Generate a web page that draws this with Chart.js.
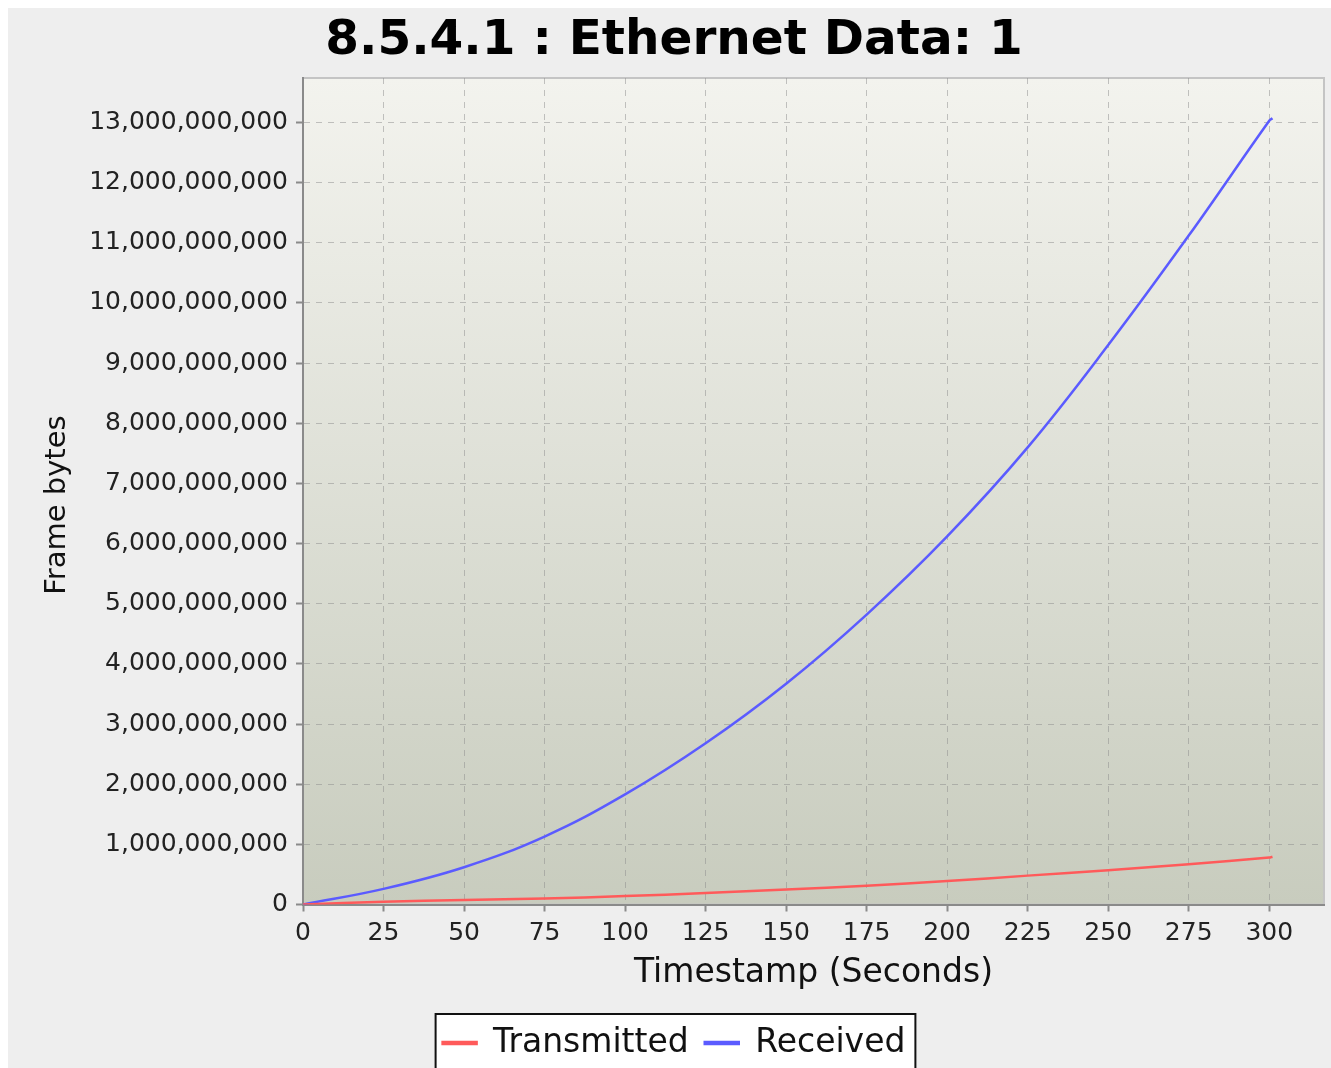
<!DOCTYPE html>
<html>
<head>
<meta charset="utf-8">
<script src="https://cdn.jsdelivr.net/npm/chart.js@4.4.1/dist/chart.umd.min.js"></script>
<style>
  html, body { margin: 0; padding: 0; background: #ffffff; overflow: hidden; }
  #wrap { position: absolute; left: 8px; top: 8px; width: 1323px; height: 1080px; background: #eeeeee; }
</style>
</head>
<body>
<div id="wrap"><canvas id="myChart"></canvas></div>
<script>
// Values
const timestamps = [0, 25, 50, 75, 100, 125, 150, 175, 200, 225, 250, 275, 300, 301];
const transmitted = [0, 0.045e9, 0.075e9, 0.1e9, 0.14e9, 0.19e9, 0.25e9, 0.31e9, 0.39e9,
                     0.48e9, 0.57e9, 0.67e9, 0.78e9, 0.795e9];
const received = [0, 0.26e9, 0.62e9, 1.13e9, 1.83e9, 2.68e9, 3.67e9, 4.82e9, 6.12e9,
                  7.6e9, 9.3e9, 11.12e9, 13.03e9, 13.07e9];
const xTicks = [0, 25, 50, 75, 100, 125, 150, 175, 200, 225, 250, 275, 300];
const yTicks = [0, 1e9, 2e9, 3e9, 4e9, 5e9, 6e9, 7e9, 8e9, 9e9, 10e9, 11e9, 12e9, 13e9];

const FONT = 'DejaVu Sans';
const RED = '#ff5a5a';
const BLUE = '#5b5bff';

function toPoints(values) {
    return timestamps.map((t, i) => ({ x: t, y: values[i] }));
}

// gradient plot background, outline and legend frame
const plotBackground = {
    id: 'plotBackground',
    beforeDraw(chart) {
        const { ctx, chartArea } = chart;
        const { left, top, right, bottom } = chartArea;
        ctx.save();
        const grad = ctx.createLinearGradient(0, top, 0, bottom);
        grad.addColorStop(0, '#f3f3ee');
        grad.addColorStop(1, '#c8ccbe');
        ctx.fillStyle = grad;
        ctx.fillRect(left, top, right - left, bottom - top);
        ctx.strokeStyle = '#c4c4c4';
        ctx.lineWidth = 2;
        ctx.strokeRect(left, top, right - left, bottom - top);

        // legend frame
        const legend = chart.legend;
        if (legend && legend.legendHitBoxes.length) {
            const boxes = legend.legendHitBoxes;
            const first = boxes[0];
            const last = boxes[boxes.length - 1];
            const x0 = first.left - 7;
            const x1 = last.left + last.width + 10;
            const midY = first.top + first.height / 2;
            ctx.fillStyle = '#ffffff';
            ctx.fillRect(x0, midY - 29, x1 - x0, 70);
            ctx.strokeStyle = '#111111';
            ctx.lineWidth = 2;
            ctx.strokeRect(x0, midY - 29, x1 - x0, 70);
        }
        ctx.restore();
    }
};

const gridOpts = {
    color: 'rgba(140,140,140,0.5)',
    tickColor: '#8a8a8a',
    tickBorderDash: [],
    tickLength: 7,
    tickWidth: 2
};
const borderOpts = { color: '#8a8a8a', width: 2, dash: [6, 6] };

const config = {
    type: 'line',
    data: {
        datasets: [
            {
                label: 'Transmitted',
                data: toPoints(transmitted),
                borderColor: RED,
                backgroundColor: RED,
                borderWidth: 2.5,
                pointRadius: 0,
                tension: 0.4
            },
            {
                label: 'Received',
                data: toPoints(received),
                borderColor: BLUE,
                backgroundColor: BLUE,
                borderWidth: 2.5,
                pointRadius: 0,
                tension: 0.4
            }
        ]
    },
    options: {
        responsive: true,
        maintainAspectRatio: false,
        animation: false,
        layout: { padding: { top: 0, right: 7, bottom: 18.5, left: 16 } },
        plugins: {
            title: {
                display: true,
                text: '8.5.4.1 : Ethernet Data: 1',
                color: '#000000',
                font: { family: FONT, size: 48.5, weight: 'bold', lineHeight: 1.2 },
                padding: { top: 4.5, bottom: 7.3 }
            },
            legend: {
                position: 'bottom',
                labels: {
                    color: '#111111',
                    font: { family: FONT, size: 33 },
                    boxWidth: 34,
                    boxHeight: 2,
                    padding: 16
                }
            },
            tooltip: { enabled: false }
        },
        scales: {
            x: {
                type: 'linear',
                min: 0,
                max: 317,
                afterBuildTicks: (scale) => { scale.ticks = xTicks.map(v => ({ value: v })); },
                afterFit: (scale) => { scale.height = 106; },
                border: borderOpts,
                grid: gridOpts,
                ticks: {
                    color: '#222222',
                    font: { family: FONT, size: 25 },
                    padding: 7,
                    maxRotation: 0,
                    autoSkip: false
                },
                title: {
                    display: true,
                    text: 'Timestamp (Seconds)',
                    color: '#111111',
                    font: { family: FONT, size: 33, lineHeight: 1.2 },
                    padding: { top: 0, bottom: 17 }
                }
            },
            y: {
                min: 0,
                max: 13.74e9,
                afterBuildTicks: (scale) => { scale.ticks = yTicks.map(v => ({ value: v })); },
                afterFit: (scale) => { scale.width = 279; },
                border: borderOpts,
                grid: gridOpts,
                ticks: {
                    color: '#222222',
                    font: { family: FONT, size: 25 },
                    padding: 8,
                    autoSkip: false,
                    callback: (value) => Number(value).toLocaleString('en-US')
                },
                title: {
                    display: true,
                    // trailing spaces nudge the label a bit below the axis centre, as in the original
                    text: 'Frame bytes   ',
                    color: '#111111',
                    font: { family: FONT, size: 29, lineHeight: 1.2 },
                    padding: { top: 16, bottom: 0 }
                }
            }
        }
    },
    plugins: [plotBackground]
};

const myChart = new Chart(document.getElementById('myChart'), config);
</script>
</body>
</html>
